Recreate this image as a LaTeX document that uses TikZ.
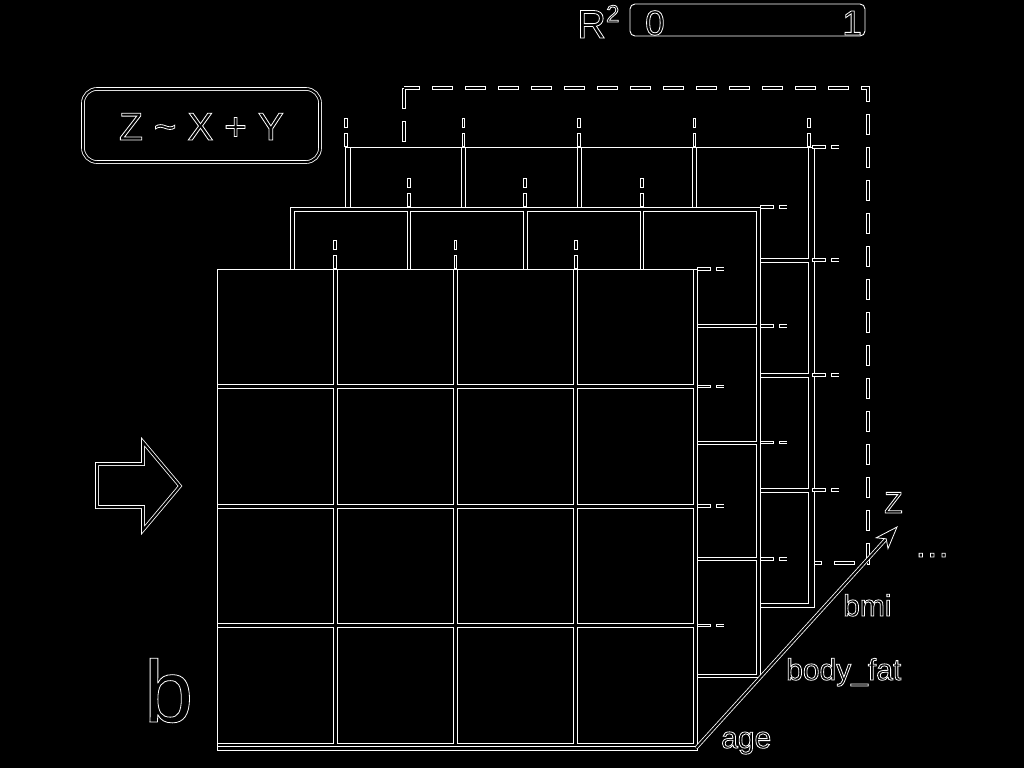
\documentclass[tikz,border=0pt]{standalone}
\usepackage{fontspec}
\setmainfont{Liberation Sans}
\newcommand\olt[1]{\special{pdf:literal direct 1 Tr 0.8 w}#1\special{pdf:literal direct 0 Tr}}
\tikzset{
  cellbox/.style={draw=white, line width=0.9pt},
  layerbox/.style={draw=white, fill=black, line width=0.9pt},
  stubo/.style={draw=white, line width=3.6pt, dash pattern=on 14pt off 5pt on 10pt off 100pt},
  stubi/.style={draw=black, line width=1.6pt, dash pattern=on 12pt off 7pt on 8pt off 102pt, dash phase=128pt},
  dbl/.style={draw=white, line width=0.8pt, double=black, double distance=2pt, line join=miter},
  lbl/.style={text=white, inner sep=0pt, anchor=base west},
  fs30/.style={font=\fontsize{30}{36}\selectfont},
}
\newcommand\vstub[2]{\draw[stubo] (#1,#2) -- ++(0,-29); \draw[stubi] (#1,#2) -- ++(0,-29);}
\newcommand\hstub[2]{\draw[stubo] (#1,#2) -- ++(27,0); \draw[stubi] (#1,#2) -- ++(27,0);}
\begin{document}
\begin{tikzpicture}[x=1pt,y=-1pt]
\fill[black] (0,0) rectangle (1024,768);
\useasboundingbox (0,0) rectangle (1024,768);

% dashed fourth layer
\coordinate (dA) at (404,88);
\coordinate (dB) at (868,88);
\coordinate (dC) at (868,563);
\coordinate (dD) at (810,563);
\coordinate (dE) at (404,152);
\draw[white, line width=4.5pt, dash pattern=on 21pt off 12pt, dash phase=5pt] (dA) -- (dB) -- (dC) -- (dD);
\draw[white, line width=4.5pt, dash pattern=on 21pt off 12pt] (dA) -- (dE);
\draw[black, line width=2.6pt, dash pattern=on 19pt off 14pt, dash phase=4pt] (dA) -- (dB) -- (dC) -- (dD);
\draw[black, line width=2.6pt, dash pattern=on 19pt off 14pt, dash phase=32pt] (dA) -- (dE);

% back layer
\draw[layerbox] (345,147) rectangle (814,607);
\foreach \i in {0,...,3}{\foreach \j in {0,...,3}{
  \draw[cellbox] ({350+\i*115.5},{147+\j*115}) rectangle ++(111.5,111);}}
\foreach \x in {346,463.5,579,694.5,809}{\vstub{\x}{147}}
\foreach \y in {147,260,375,490}{\hstub{812}{\y}}

% middle layer
\draw[layerbox] (290,207) rectangle (760,677);
\foreach \i in {0,...,3}{\foreach \j in {0,...,3}{
  \draw[cellbox] ({294+\i*116.5},{211+\j*116.5}) rectangle ++(113,113.5);}}
\foreach \x in {408.7,525.2,641.7}{\vstub{\x}{207}}
\foreach \y in {207,326,442.5,559}{\hstub{760}{\y}}

% front layer
\draw[layerbox] (217,269) rectangle (697,750);
\foreach \i in {0,...,3}{\foreach \j in {0,...,3}{
  \draw[cellbox] ({217+\i*120.3},{269+\j*119.5}) rectangle ++(116,115.5);}}
\draw[cellbox] (217,746) -- (697,746);
\foreach \x in {335.2,455.5,575.8}{\vstub{\x}{269}}
\foreach \y in {269,386.5,506,625.5}{\hstub{697}{\y}}

% depth axis
\coordinate (o) at (696,748);
\coordinate (notch) at (886.2,538.8);
\coordinate (tip) at (897,527);
\coordinate (wA) at (888,548.6);
\coordinate (wB) at (876.2,537.8);
\draw[dbl] (o) -- (notch);
\draw[white, fill=black, line width=0.8pt, line join=miter] (tip) -- (wA) -- (notch) -- (wB) -- cycle;

% block arrow
\draw[dbl] (97,464) -- (143,464) -- (143,442) -- (180,486) -- (143,530) -- (143,507) -- (97,507) -- cycle;

% formula box
\node[dbl, rounded corners=14pt, minimum width=237pt, minimum height=73pt, inner sep=0pt] (formula) at (201.5,125.5) {};
\node[text=white, inner sep=0pt, text height=28pt, text depth=0pt, font=\fontsize{39}{44}\selectfont] (ftext) at (201.5,126) {\olt{Z \char`\~{} X + Y}};

% colour bar
\node[draw=white, line width=0.9pt, rounded corners=5pt, minimum width=235pt, minimum height=32pt, inner sep=0pt] (cbar) at (747.5,20) {};
\node[lbl, font=\fontsize{40}{44}\selectfont] (rsq) at (577,38) {\olt{R\raisebox{16pt}{\fontsize{24}{24}\selectfont 2}}};
\node[lbl, font=\fontsize{35}{40}\selectfont] (c0) at (645,35) {\olt{0}};
\node[lbl, anchor=base east, font=\fontsize{35}{40}\selectfont] (c1) at (862,35) {\olt{1}};

% labels
\node[lbl, fs30] (zlab) at (884,513) {\olt{Z}};
\node[lbl, font=\fontsize{36}{40}\selectfont] (dots) at (914,557) {\olt{…}};
\node[lbl, fs30] (bmi) at (843,616) {\olt{bmi}};
\node[lbl, fs30] (bodyfat) at (786,680) {\olt{body\_fat}};
\node[lbl, fs30] (age) at (721,748) {\olt{age}};
\node[lbl, font=\fontsize{88}{90}\selectfont] (blab) at (144,722) {\olt{b}};
\end{tikzpicture}
\end{document}
